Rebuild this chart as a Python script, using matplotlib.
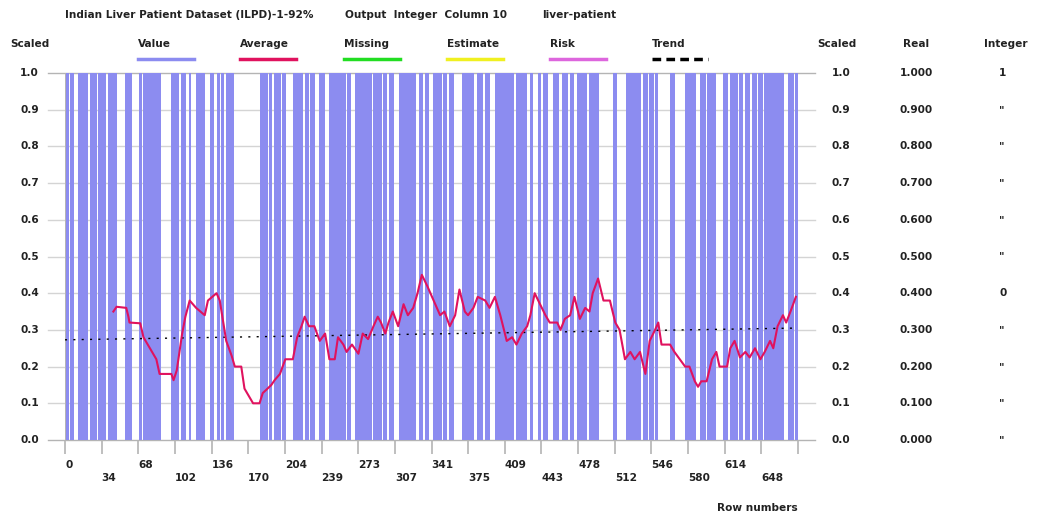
"""ILPD output column: values, moving average and trend by row number."""

import numpy as np
import matplotlib
matplotlib.use("Agg")
import matplotlib.pyplot as plt

plt.rcParams["font.family"] = ["DejaVu Sans"]

N_ROWS = 682

# runs of rows where the scaled value is 1 (inclusive start, end)
value_runs = [
    (1, 3), (5, 7), (12, 20), (23, 25), (26, 29), (31, 37), (40, 43), (44, 47),
    (56, 61), (69, 71), (73, 76), (77, 81), (82, 88), (99, 105), (108, 112),
    (115, 116), (122, 129), (135, 138), (141, 143), (145, 147), (150, 156),
    (181, 188), (190, 192), (194, 196), (197, 200), (202, 205), (212, 220),
    (223, 226), (228, 232), (236, 241), (246, 248), (249, 253), (254, 256),
    (257, 260), (262, 265), (270, 273), (274, 276), (277, 280), (281, 285),
    (287, 290), (291, 294), (296, 299), (301, 305), (311, 317), (318, 321),
    (322, 326), (329, 332), (335, 338), (342, 346), (347, 350), (352, 354),
    (357, 361), (369, 371), (372, 376), (377, 380), (383, 388), (391, 394),
    (400, 417), (420, 429), (433, 434), (440, 442), (445, 448), (454, 459),
    (462, 464), (465, 467), (470, 473), (476, 481), (482, 485), (488, 496),
    (510, 513), (522, 529), (530, 535), (538, 541), (543, 547), (549, 551),
    (563, 567), (577, 586), (591, 595), (597, 605), (612, 616), (619, 622),
    (623, 625), (627, 630), (633, 636), (639, 643), (645, 648), (650, 653),
    (654, 668), (673, 677), (679, 681),
]

avg_rows = [
    45, 48, 57, 59, 60, 70, 73, 79, 85, 88, 99, 101, 104, 109, 112, 116, 122,
    130, 133, 141, 144, 150, 155, 158, 164, 167, 175, 181, 184, 187, 192, 195,
    200, 205, 212, 216, 220, 223, 227, 232, 237, 242, 246, 251, 254, 259, 262,
    267, 273, 277, 282, 287, 291, 294, 298, 301, 305, 310, 315, 319, 324, 328,
    332, 337, 343, 349, 353, 358, 363, 367, 372, 375, 380, 384, 391, 395, 400,
    405, 411, 416, 420, 425, 430, 433, 437, 442, 447, 451, 458, 461, 465, 470,
    474, 479, 484, 488, 491, 496, 501, 507, 512, 516, 521, 526, 530, 535, 540,
    544, 549, 552, 555, 563, 567, 572, 577, 581, 586, 589, 592, 597, 602, 606,
    609, 616, 619, 623, 628, 633, 637, 642, 647, 651, 656, 659, 663, 668, 671,
    675, 680,
]
avg_values = [
    0.35, 0.363, 0.36, 0.336, 0.32, 0.318, 0.28, 0.25, 0.22, 0.18, 0.18, 0.163,
    0.19, 0.29, 0.336, 0.38, 0.36, 0.34, 0.38, 0.40, 0.38, 0.27, 0.23, 0.20,
    0.20, 0.14, 0.10, 0.10, 0.128, 0.136, 0.15, 0.163, 0.18, 0.22, 0.22, 0.28,
    0.31, 0.336, 0.31, 0.31, 0.27, 0.29, 0.22, 0.22, 0.28, 0.26, 0.24, 0.26,
    0.235, 0.29, 0.275, 0.31, 0.336, 0.32, 0.29, 0.32, 0.35, 0.31, 0.37, 0.34,
    0.36, 0.40, 0.45, 0.42, 0.38, 0.34, 0.35, 0.31, 0.34, 0.41, 0.35, 0.34,
    0.36, 0.39, 0.38, 0.36, 0.39, 0.34, 0.27, 0.28, 0.26, 0.29, 0.31, 0.34,
    0.40, 0.37, 0.34, 0.32, 0.32, 0.30, 0.33, 0.34, 0.39, 0.33, 0.36, 0.35,
    0.40, 0.44, 0.38, 0.38, 0.32, 0.30, 0.22, 0.24, 0.22, 0.24, 0.18, 0.27,
    0.30, 0.32, 0.26, 0.26, 0.24, 0.22, 0.20, 0.20, 0.16, 0.145, 0.16, 0.16,
    0.22, 0.24, 0.20, 0.20, 0.25, 0.27, 0.225, 0.24, 0.225, 0.25, 0.22, 0.24,
    0.27, 0.25, 0.31, 0.34, 0.32, 0.35, 0.39,
]

trend_rows = [0, N_ROWS]
trend_values = [0.273, 0.305]

x_tick_labels = ["0", "34", "68", "102", "136", "170", "204", "239", "273", "307",
                 "341", "375", "409", "443", "478", "512", "546", "580", "614", "648"]
scaled_labels = ["1.0", "0.9", "0.8", "0.7", "0.6", "0.5", "0.4", "0.3", "0.2", "0.1", "0.0"]
real_labels = ["1.000", "0.900", "0.800", "0.700", "0.600", "0.500",
               "0.400", "0.300", "0.200", "0.100", "0.000"]
integer_labels = ["1", '"', '"', '"', '"', '"', "0", '"', '"', '"', '"']

legend_names = ["Value", "Average", "Missing", "Estimate", "Risk", "Trend"]
legend_colors = ["#8c8cf0", "#e0125e", "#22dd22", "#f0f020", "#dd66dd", "black"]

BLUE = "#8c8cf0"
GREY = "#b4b4b4"
TXT = "#222222"

values = np.zeros(N_ROWS)
for a, b in value_runs:
    values[a:b + 1] = 1
rows = np.arange(N_ROWS)

W, H = 1042, 519
fig = plt.figure(figsize=(W / 100, H / 100), dpi=100)
ax_l, ax_r, ax_t, ax_b = 65, 798, 73, 440
ax = fig.add_axes([ax_l / W, 1 - ax_b / H, (ax_r - ax_l) / W, (ax_b - ax_t) / H])
ax.set_xlim(0, N_ROWS)
ax.set_ylim(0, 1)
for s in ax.spines.values():
    s.set_visible(False)

px_row = (ax_r - ax_l) / N_ROWS

# grid lines reaching past the plot on both sides
ticks_y = np.linspace(1, 0, 11)
for v in ticks_y:
    ax.plot([-17 / px_row, N_ROWS + 17 / px_row], [v, v], color="#d4d4d4" if 0 < v < 1 else GREY,
            lw=1, clip_on=False, zorder=0)
ax.plot([0, 0], [0, 1], color=GREY, lw=1.5, zorder=0)

on = rows[values == 1]
ax.bar(on, np.ones(len(on)), width=1.0, align="edge", color=BLUE, linewidth=0, zorder=1)

ax.plot(trend_rows, trend_values, color="black", lw=1, ls=(0, (1.5, 4.5)), zorder=3)
ax.plot(avg_rows, avg_values, color="#e0125e", lw=1.5, zorder=4)

# x ticks, labels in two staggered rows
tick_pos = [i * N_ROWS / 20 for i in range(21)]
ax.set_xticks(tick_pos)
ax.set_xticklabels([])
ax.set_yticks([])
ax.tick_params(axis="x", length=10, width=1.2, color=GREY, pad=0)


def ftext(x, y, s, ha="left", size=7.6):
    fig.text(x / W, 1 - y / H, s, ha=ha, va="center", fontsize=size,
             fontweight="bold", color=TXT)


for i, lab in enumerate(x_tick_labels):
    y_px = 465 if i % 2 == 0 else 478
    ftext(ax_l + tick_pos[i] * px_row, y_px, lab)

for i, v in enumerate(ticks_y):
    y_px = ax_b - v * (ax_b - ax_t)
    ftext(39, y_px, scaled_labels[i], ha="right")
    ftext(832, y_px, scaled_labels[i])
    ftext(900, y_px, real_labels[i])
    ftext(999, y_px, integer_labels[i])

ftext(65, 15, "Indian Liver Patient Dataset (ILPD)-1-92%")
ftext(345, 15, "Output  Integer  Column 10")
ftext(542, 15, "liver-patient")

ftext(10, 44, "Scaled")
ftext(817, 44, "Scaled")
ftext(903, 44, "Real")
ftext(984, 44, "Integer")

legend_x = [138, 240, 344, 447, 550, 652]
for x0, name, col in zip(legend_x, legend_names, legend_colors):
    ftext(x0, 44, name)
    ls = (0, (2.5, 1.5)) if name == "Trend" else "-"
    fig.add_artist(plt.Line2D([x0 / W, (x0 + 56) / W], [1 - 59 / H, 1 - 59 / H],
                              color=col, lw=2.5, ls=ls, transform=fig.transFigure))

ftext(757, 508, "Row numbers", ha="center")

fig.savefig("out.png", dpi=100)
